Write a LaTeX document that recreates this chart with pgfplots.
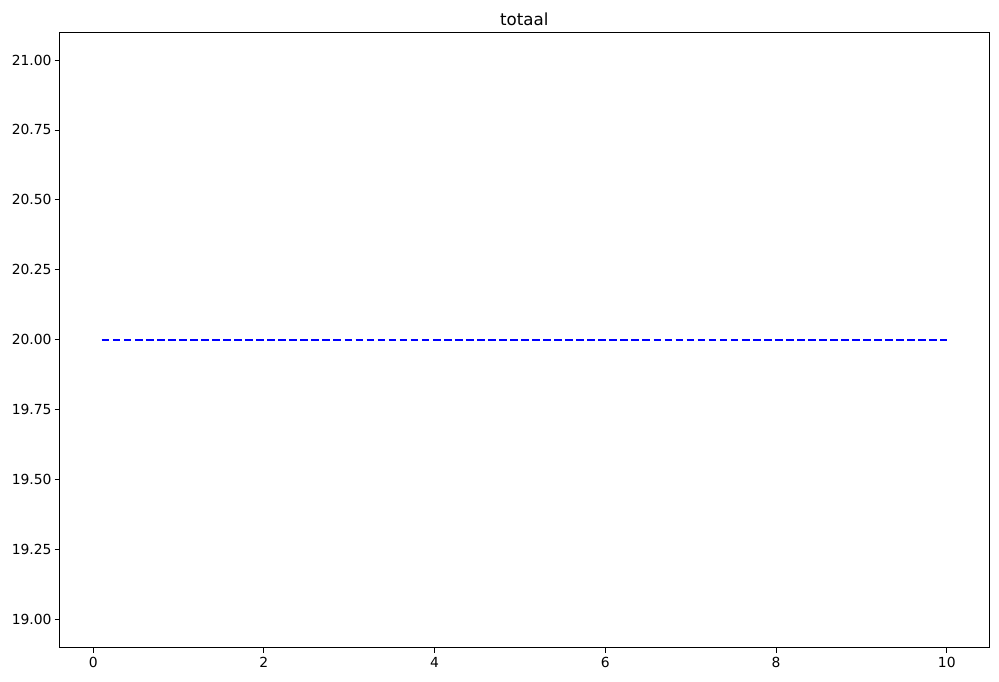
\documentclass[border=0pt]{standalone}
\usepackage{fontspec}
\setmainfont{DejaVu Sans}
\usepackage{pgfplots}
\pgfplotsset{compat=1.18}
\begin{document}
\begin{tikzpicture}
\begin{axis}[
  at={(0,0)}, anchor=south west,
  scale only axis,
  width=669.6pt, height=443.5pt,
  xmin=-0.395, xmax=10.495,
  ymin=18.9, ymax=21.1,
  xtick={0,2,4,6,8,10},
  ytick={19,19.25,19.5,19.75,20,20.25,20.5,20.75,21},
  yticklabel style={/pgf/number format/fixed,/pgf/number format/fixed zerofill,/pgf/number format/precision=2},
  /pgf/number format/assume math mode=true,
  tick align=outside,
  xtick pos=bottom, ytick pos=left,
  major tick length=3.5pt,
  every tick/.style={black, line width=0.6pt},
  axis line style={line width=0.6pt},
  tick label style={font=\fontsize{10}{12}\selectfont, inner sep=0pt},
  xticklabel style={yshift=-3.5pt},
  yticklabel style={xshift=-2pt},
  title={totaal},
  title style={font=\fontsize{12}{14}\selectfont, at={(0.5,1)}, anchor=base, yshift=-1.4pt, inner sep=0pt},
]
\addplot[blue, line width=1.5pt, dash pattern=on 5.55pt off 2.4pt] coordinates {(0.1,20) (10,20)};
\end{axis}
\useasboundingbox (-42.84pt,-24.48pt) rectangle (676.8pt,466.54pt);
\end{tikzpicture}
\end{document}
